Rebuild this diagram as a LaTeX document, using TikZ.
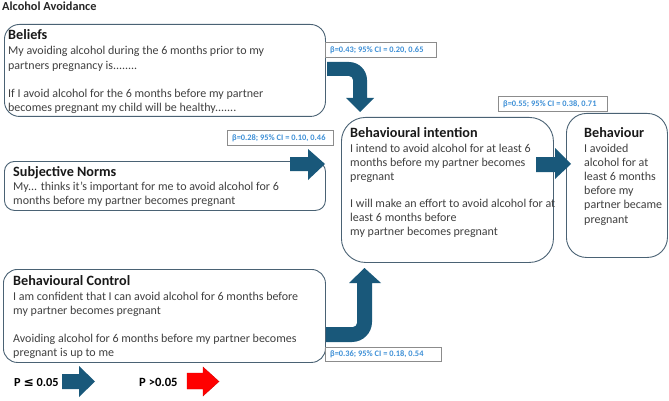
\documentclass[tikz,border=0pt]{standalone}
\usepackage{fontspec}
\setmainfont{Carlito}
\newfontfamily\symfont{DejaVu Sans}
\definecolor{arrowc}{HTML}{19587A}
\definecolor{boxc}{HTML}{4A6274}
\definecolor{betac}{HTML}{3D8FD6}
\definecolor{labbord}{HTML}{8C8C8C}
\newcommand{\lines}[1]{\begin{tabular}[t]{@{}l@{}}#1\end{tabular}}
\begin{document}
\begin{tikzpicture}[x=1pt,y=-1pt,
  panel/.style={draw=boxc,line width=0.9pt,rounded corners=#1,fill=white},
  panel/.default=14pt,
  head/.style={anchor=base west,inner sep=0pt,font=\fontsize{14.2}{16}\selectfont\bfseries,text=black!90},
  body/.style={anchor=base west,inner sep=0pt,font=\fontsize{12}{14.2}\selectfont,text=black!75},
  beta/.style={draw=labbord,line width=0.6pt,inner sep=0pt},
  betatext/.style={anchor=west,inner sep=0pt,font=\fontsize{8.4}{9}\selectfont\bfseries,text=betac},
  blk/.style={fill=arrowc},
]
\useasboundingbox (0,0) rectangle (669,401);
\node[anchor=base west,inner sep=0pt,font=\fontsize{12.3}{14}\selectfont\bfseries,text=black!85] (title) at (2,11) {Alcohol Avoidance};

% boxes
\node[panel=15pt,minimum width=321pt,minimum height=92pt,anchor=north west] (bel) at (4,24) {};
\node[panel=10pt,minimum width=321pt,minimum height=49pt,anchor=north west] (sub) at (4,161) {};
\node[panel=14pt,minimum width=322pt,minimum height=93pt,anchor=north west] (ctl) at (3,269) {};
\node[panel=24pt,minimum width=212pt,minimum height=145pt,anchor=north west] (int) at (341,117) {};
\node[panel=20pt,minimum width=101pt,minimum height=144pt,anchor=north west] (beh) at (566,113) {};

% texts
\node[head] (belh) at (8,39.5) {Beliefs};
\node[body] (belt) at (8,55) {\lines{My avoiding alcohol during the 6 months prior to my\\partners pregnancy is........\\[14.2pt]If I avoid alcohol for the 6 months before my partner\\becomes pregnant my child will be healthy.......}};
\node[head] (subh) at (13,176.5) {Subjective Norms};
\node[body] (subt) at (13,190.5) {\lines{My... thinks it’s important for me to avoid alcohol for 6\\months before my partner becomes pregnant}};
\node[head] (ctlh) at (13,285.5) {Behavioural Control};
\node[body] (ctlt) at (13,300) {\lines{I am confident that I can avoid alcohol for 6 months before\\my partner becomes pregnant\\[14pt]Avoiding alcohol for 6 months before my partner becomes\\pregnant is up to me}};
\node[head] (inth) at (350,137.5) {Behavioural intention};
\node[body] (intt) at (350,152) {\lines{I intend to avoid alcohol for at least 6\\months before my partner becomes\\pregnant\\[13pt]I will make an effort to avoid alcohol for at\\least 6 months before\\my partner becomes pregnant}};
\node[head] (behh) at (584,137.5) {Behaviour};
\node[body] (beht) at (584,152) {\lines{I avoided\\alcohol for at\\least 6 months\\before my\\partner became\\pregnant}};

% beta labels
\node[beta,minimum width=111pt,minimum height=15pt,anchor=north west] (b1) at (325,42) {};
\node[betatext] (b1t) at ([xshift=5pt]b1.west) {β=0.43; 95\% CI = 0.20, 0.65};
\node[beta,minimum width=106pt,minimum height=15pt,anchor=north west] (b2) at (227,130) {};
\node[betatext] (b2t) at ([xshift=5pt]b2.west) {β=0.28; 95\% CI = 0.10, 0.46};
\node[beta,minimum width=109pt,minimum height=15pt,anchor=north west] (b3) at (498,96) {};
\node[betatext] (b3t) at ([xshift=5pt]b3.west) {β=0.55; 95\% CI = 0.38, 0.71};
\node[beta,minimum width=116pt,minimum height=14pt,anchor=north west] (b4) at (325,347) {};
\node[betatext] (b4t) at ([xshift=5pt]b4.west) {β=0.36; 95\% CI = 0.18, 0.54};

% bent arrow beliefs -> intention
\fill[blk] (327,62) -- (349,62) .. controls (358.9,62) and (367,70.1) .. (367,80) -- (367,98) -- (374,98) -- (360,112) -- (346,98) -- (353,98) -- (353,80) .. controls (353,77.8) and (351.2,76) .. (349,76) -- (327,76) -- cycle;
% straight arrow subjective -> intention
\fill[blk] (290,157) -- (308,157) -- (308,149) -- (325,164) -- (308,180) -- (308,171) -- (290,171) -- cycle;
% bent arrow control -> intention
\fill[blk] (326,327) -- (353,327) .. controls (355.2,327) and (357,325.2) .. (357,323) -- (357,283) -- (349,283) -- (364.5,268) -- (381,283) -- (372,283) -- (372,322) .. controls (372,333) and (363,342) .. (352,342) -- (326,342) -- cycle;
% intention -> behaviour
\fill[blk] (536,157) -- (555,157) -- (555,148) -- (571,164) -- (555,179) -- (555,172) -- (536,172) -- cycle;

% legend
\node[anchor=base west,inner sep=0pt,font=\fontsize{12.3}{14}\selectfont\bfseries] (p1) at (14,386) {P {\symfont\bfseries ≤} 0.05};
\fill[blk] (62,374) -- (79,374) -- (79,366) -- (95,381.5) -- (79,397) -- (79,389) -- (62,389) -- cycle;
\node[anchor=base west,inner sep=0pt,font=\fontsize{12.6}{14}\selectfont\bfseries] (p2) at (139,386) {P >0.05};
\filldraw[fill=red,draw=red!85!black,line width=0.4pt] (187,373) -- (203,373) -- (203,367) -- (219,381.5) -- (203,396) -- (203,389) -- (187,389) -- cycle;
\end{tikzpicture}
\end{document}
